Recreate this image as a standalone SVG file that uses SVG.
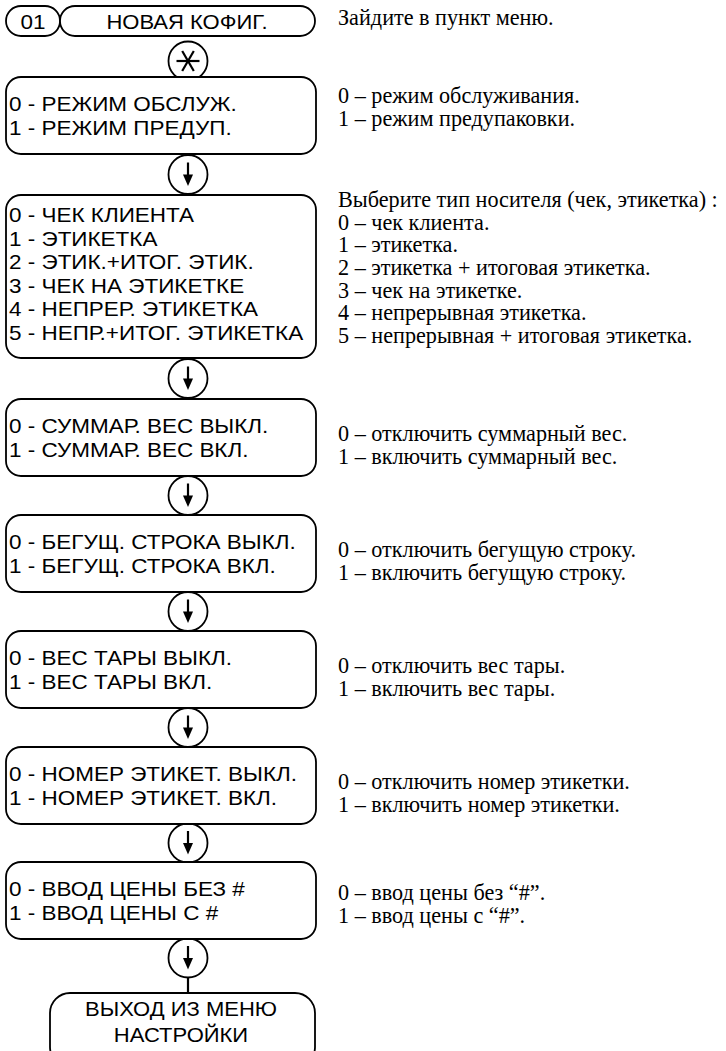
<svg xmlns="http://www.w3.org/2000/svg" width="726" height="1051" viewBox="0 0 726 1051">
<style>
.box{fill:#fff;stroke:#000;stroke-width:1.8}
.lt{font-family:"Liberation Sans",Arial,sans-serif;font-size:20px;fill:#000}
.c{text-anchor:middle}
.rt{font-family:"Liberation Serif","Times New Roman",serif;font-size:22.2px;fill:#000}
.circ{fill:#fff;stroke:#000;stroke-width:1.8}
.arr{stroke:#000;stroke-width:2.2;fill:none}
.head{fill:#000}
</style>
<defs>
<g id="down">
<circle class="circ" cx="0" cy="0" r="19.5"/>
<line class="arr" x1="0" y1="-12" x2="0" y2="2"/>
<polygon class="head" points="-5,0 5,0 0,11.5"/>
</g>
</defs>

<g id="connectors">
<line class="arr" x1="188" y1="977" x2="188" y2="993" stroke-width="1.8"/>
<g id="star">
<circle class="circ" cx="188" cy="61" r="19.5"/>
<line class="arr" x1="176.5" y1="61" x2="199.5" y2="61" stroke-width="2.8"/>
<line class="arr" x1="182.2" y1="51" x2="193.8" y2="71" stroke-width="2.8"/>
<line class="arr" x1="193.8" y1="51" x2="182.2" y2="71" stroke-width="2.8"/>
</g>
<use href="#down" x="188" y="174.5"/>
<use href="#down" x="188" y="378.5"/>
<use href="#down" x="188" y="495.5"/>
<use href="#down" x="188" y="611.5"/>
<use href="#down" x="188" y="727.5"/>
<use href="#down" x="188" y="843"/>
<use href="#down" x="188" y="958"/>
</g>

<g id="header">
<rect class="box" x="6" y="6" width="54" height="30" rx="15"/>
<text class="lt c" transform="translate(33,28.5) scale(1.125,1)">01</text>
<rect class="box" x="60" y="6" width="255" height="30" rx="15"/>
<text class="lt c" transform="translate(187,28.5) scale(1.1,1)">НОВАЯ КОФИГ.</text>
</g>

<g id="node-mode">
<rect class="box" x="6" y="77" width="310" height="77" rx="15"/>
<text class="lt" transform="translate(9,111) scale(1.125,1)">0 - РЕЖИМ ОБСЛУЖ.</text>
<text class="lt" transform="translate(9,135) scale(1.125,1)">1 - РЕЖИМ ПРЕДУП.</text>
</g>

<g id="node-media">
<rect class="box" x="6" y="195" width="310" height="163" rx="15"/>
<text class="lt" transform="translate(9,222) scale(1.125,1)">0 - ЧЕК КЛИЕНТА</text>
<text class="lt" transform="translate(9,245.6) scale(1.125,1)">1 - ЭТИКЕТКА</text>
<text class="lt" transform="translate(9,269.2) scale(1.125,1)">2 - ЭТИК.+ИТОГ. ЭТИК.</text>
<text class="lt" transform="translate(9,292.8) scale(1.125,1)">3 - ЧЕК НА ЭТИКЕТКЕ</text>
<text class="lt" transform="translate(9,316.4) scale(1.125,1)">4 - НЕПРЕР. ЭТИКЕТКА</text>
<text class="lt" transform="translate(9,340) scale(1.125,1)">5 - НЕПР.+ИТОГ. ЭТИКЕТКА</text>
</g>

<g id="node-sum">
<rect class="box" x="6" y="399" width="310" height="77" rx="15"/>
<text class="lt" transform="translate(9,433) scale(1.125,1)">0 - СУММАР. ВЕС ВЫКЛ.</text>
<text class="lt" transform="translate(9,457) scale(1.125,1)">1 - СУММАР. ВЕС ВКЛ.</text>
</g>

<g id="node-ticker">
<rect class="box" x="6" y="515" width="310" height="77" rx="15"/>
<text class="lt" transform="translate(9,549) scale(1.125,1)">0 - БЕГУЩ. СТРОКА ВЫКЛ.</text>
<text class="lt" transform="translate(9,573) scale(1.125,1)">1 - БЕГУЩ. СТРОКА ВКЛ.</text>
</g>

<g id="node-tare">
<rect class="box" x="6" y="631" width="310" height="77" rx="15"/>
<text class="lt" transform="translate(9,665) scale(1.125,1)">0 - ВЕС ТАРЫ ВЫКЛ.</text>
<text class="lt" transform="translate(9,689) scale(1.125,1)">1 - ВЕС ТАРЫ ВКЛ.</text>
</g>

<g id="node-labelno">
<rect class="box" x="6" y="747" width="310" height="77" rx="15"/>
<text class="lt" transform="translate(9,781) scale(1.125,1)">0 - НОМЕР ЭТИКЕТ. ВЫКЛ.</text>
<text class="lt" transform="translate(9,805) scale(1.125,1)">1 - НОМЕР ЭТИКЕТ. ВКЛ.</text>
</g>

<g id="node-price">
<rect class="box" x="6" y="862" width="310" height="77" rx="15"/>
<text class="lt" transform="translate(9,896) scale(1.125,1)">0 - ВВОД ЦЕНЫ БЕЗ #</text>
<text class="lt" transform="translate(9,920) scale(1.125,1)">1 - ВВОД ЦЕНЫ С #</text>
</g>

<g id="node-exit">
<rect class="box" x="50" y="993" width="265" height="74" rx="20"/>
<text class="lt c" transform="translate(181,1016) scale(1.1,1)">ВЫХОД ИЗ МЕНЮ</text>
<text class="lt c" transform="translate(181,1042) scale(1.1,1)">НАСТРОЙКИ</text>
</g>

<g id="notes">
<text class="rt" x="338" y="25">Зайдите в пункт меню.</text>
<text class="rt" x="338" y="103">0 – режим обслуживания.</text>
<text class="rt" x="338" y="126">1 – режим предупаковки.</text>
<text class="rt" x="338" y="207">Выберите тип носителя (чек, этикетка) :</text>
<text class="rt" x="338" y="229.7">0 – чек клиента.</text>
<text class="rt" x="338" y="252.3">1 – этикетка.</text>
<text class="rt" x="338" y="275">2 – этикетка + итоговая этикетка.</text>
<text class="rt" x="338" y="297.7">3 – чек на этикетке.</text>
<text class="rt" x="338" y="320.3">4 – непрерывная этикетка.</text>
<text class="rt" x="338" y="343">5 – непрерывная + итоговая этикетка.</text>
<text class="rt" x="338" y="441">0 – отключить суммарный вес.</text>
<text class="rt" x="338" y="464">1 – включить суммарный вес.</text>
<text class="rt" x="338" y="557">0 – отключить бегущую строку.</text>
<text class="rt" x="338" y="580">1 – включить бегущую строку.</text>
<text class="rt" x="338" y="673">0 – отключить вес тары.</text>
<text class="rt" x="338" y="696">1 – включить вес тары.</text>
<text class="rt" x="338" y="789">0 – отключить номер этикетки.</text>
<text class="rt" x="338" y="812">1 – включить номер этикетки.</text>
<text class="rt" x="338" y="900">0 – ввод цены без “#”.</text>
<text class="rt" x="338" y="923">1 – ввод цены с “#”.</text>
</g>
</svg>
